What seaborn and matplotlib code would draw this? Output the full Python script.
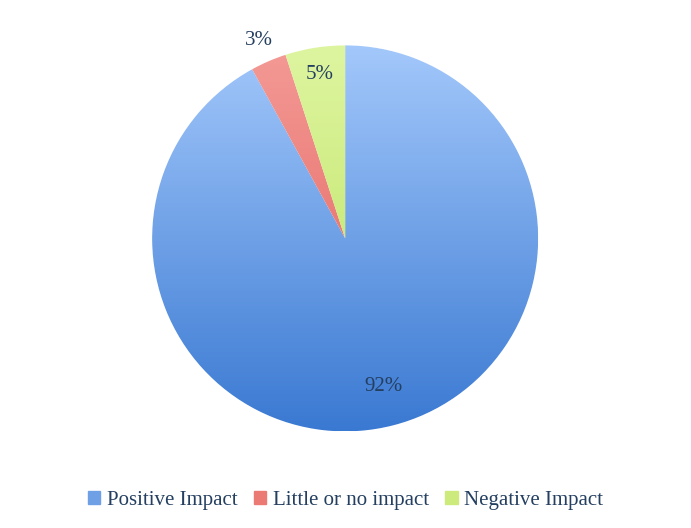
import numpy as np
import seaborn as sns
import matplotlib
matplotlib.use("Agg")
from matplotlib import pyplot as plt
from matplotlib.colors import LinearSegmentedColormap

sns.set_theme(style="white")
plt.rcParams['font.family'] = ['Liberation Serif', 'DejaVu Serif']

labels = ['Positive Impact', 'Little or no impact', 'Negative Impact']
values = [92, 3, 5]
top_colors = ['#a3c8fb', '#f49a96', '#def5a0']
bottom_colors = ['#3a79d2', '#e05a55', '#b8e05a']
label_dist = [0.79, 1.12, 0.86]

fig = plt.figure(figsize=(6.91, 5.28), dpi=100)
ax = fig.add_axes([0.22, 0.183, 0.559, 0.731])
wedges, texts, autotexts = ax.pie(values, startangle=90, counterclock=False,
                                  colors=bottom_colors, autopct='%d%%',
                                  wedgeprops=dict(edgecolor='white', linewidth=1),
                                  textprops=dict(fontsize=15, color='#243f60'))

grad = np.linspace(1, 0, 256).reshape(-1, 1)
for w, c0, c1 in zip(wedges, top_colors, bottom_colors):
    cmap = LinearSegmentedColormap.from_list('g', [c1, c0])
    im = ax.imshow(grad, cmap=cmap, extent=[-1, 1, -1, 1], origin='upper',
                   aspect='auto', zorder=w.get_zorder() + 0.1)
    # top of image = value 1 -> c0
    im.set_clip_path(w)

for w, t, d in zip(wedges, autotexts, label_dist):
    ang = np.deg2rad((w.theta1 + w.theta2) / 2)
    t.set_position((d * np.cos(ang), d * np.sin(ang)))
    t.set_zorder(10)

ax.set_xlim(-1, 1)
ax.set_ylim(-1, 1)
ax.set_aspect('equal')
ax.axis('off')

handles = [plt.Rectangle((0, 0), 1, 1, color=c) for c in
           ['#6fa0e6', '#eb7a75', '#cdeb7c']]
fig.legend(handles, labels, loc='center', bbox_to_anchor=(0.5, 0.053), ncol=3,
           frameon=False, fontsize=15, handlelength=0.6, handleheight=0.6,
           handletextpad=0.3, columnspacing=0.8, labelcolor='#243f60')

fig.savefig('out.png', dpi=100)
